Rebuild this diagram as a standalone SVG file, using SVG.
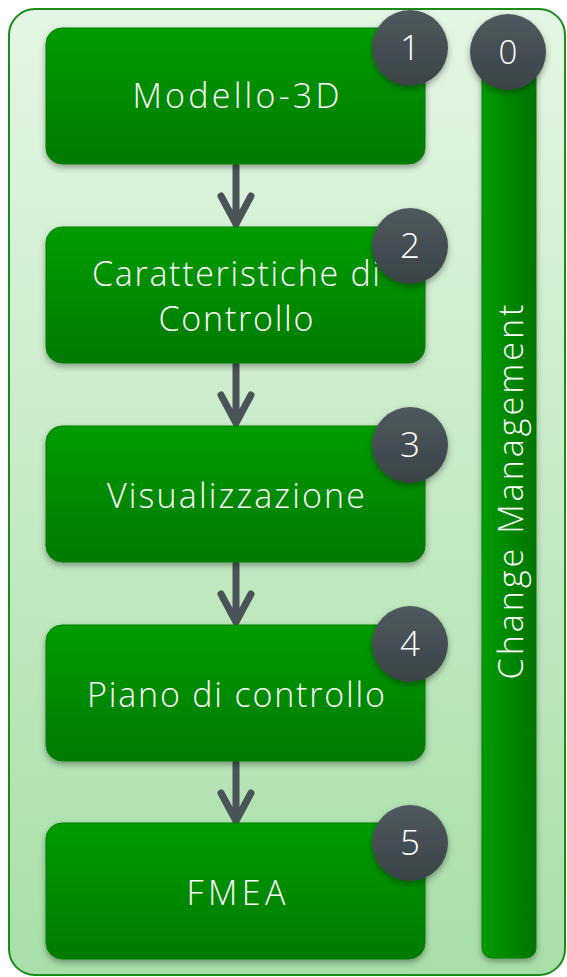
<svg xmlns="http://www.w3.org/2000/svg" width="567" height="977" viewBox="0 0 567 977">
<defs>
<linearGradient id="bg" x1="0" y1="0" x2="0" y2="1"><stop offset="0" stop-color="#e4f6e4"/><stop offset="1" stop-color="#a8dfa8"/></linearGradient>
<linearGradient id="box" x1="0" y1="0" x2="0" y2="1"><stop offset="0" stop-color="#009c00"/><stop offset="1" stop-color="#007a00"/></linearGradient>
<linearGradient id="bar" x1="0" y1="0" x2="1" y2="0"><stop offset="0" stop-color="#009c00"/><stop offset="1" stop-color="#007400"/></linearGradient>
<linearGradient id="circ" x1="0" y1="0" x2="0" y2="1"><stop offset="0" stop-color="#4f595e"/><stop offset="1" stop-color="#3a4347"/></linearGradient>
<filter id="sh" x="-20%" y="-20%" width="140%" height="150%"><feDropShadow dx="0" dy="3" stdDeviation="3" flood-color="#000" flood-opacity="0.35"/></filter>
</defs>
<style>
.box{fill:url(#box);stroke:#0a7d0a;stroke-width:1;filter:url(#sh)}
.lbl{font-family:"Open Sans","Lato",sans-serif;font-weight:300;font-size:34px;fill:#fff;text-anchor:middle}
.num{font-family:"Open Sans","Lato",sans-serif;font-weight:300;font-size:35px;fill:#fff;text-anchor:middle}
.circ{fill:url(#circ);filter:url(#sh)}
.arr{fill:none;stroke:#4a5358;stroke-width:7;stroke-linecap:round;stroke-linejoin:miter}
</style>
<rect x="9" y="9" width="556" height="966" rx="26" fill="url(#bg)" stroke="#1a8a1a" stroke-width="2"/>
<g id="connectors">
<path class="arr" d="M236 166V224M221 196L236 224L251 196"/>
<path class="arr" d="M236 365V423M221 395L236 423L251 395"/>
<path class="arr" d="M236 564V622M221 594L236 622L251 594"/>
<path class="arr" d="M236 763V821M221 793L236 821L251 793"/>
</g>
<g id="node0">
<rect x="482" y="52" width="54" height="906" rx="10" fill="url(#bar)" stroke="#0a7d0a" stroke-width="1" filter="url(#sh)"/>
<text class="lbl" transform="translate(523 492) rotate(-90)" textLength="375" lengthAdjust="spacing">Change Management</text>
<circle class="circ" cx="508" cy="52" r="38"/>
<text class="num" x="508" y="64" style="font-size:33px">0</text>
</g>
<g id="node1">
<rect class="box" x="46" y="28" width="379" height="136" rx="16"/>
<text class="lbl" x="236" y="108" textLength="207" lengthAdjust="spacing">Modello-3D</text>
<circle class="circ" cx="410" cy="48" r="38"/>
<text class="num" x="410" y="60">1</text>
</g>
<g id="node2">
<rect class="box" x="46" y="227" width="379" height="136" rx="16"/>
<text class="lbl" x="236" y="286" textLength="288" lengthAdjust="spacing">Caratteristiche di</text>
<text class="lbl" x="236" y="331" textLength="155" lengthAdjust="spacing">Controllo</text>
<circle class="circ" cx="410" cy="246" r="38"/>
<text class="num" x="410" y="258">2</text>
</g>
<g id="node3">
<rect class="box" x="46" y="426" width="379" height="136" rx="16"/>
<text class="lbl" x="236" y="508" textLength="258" lengthAdjust="spacing">Visualizzazione</text>
<circle class="circ" cx="410" cy="445" r="38"/>
<text class="num" x="410" y="457">3</text>
</g>
<g id="node4">
<rect class="box" x="46" y="625" width="379" height="136" rx="16"/>
<text class="lbl" x="236" y="707" textLength="298" lengthAdjust="spacing">Piano di controllo</text>
<circle class="circ" cx="410" cy="644" r="38"/>
<text class="num" x="410" y="656">4</text>
</g>
<g id="node5">
<rect class="box" x="46" y="823" width="379" height="136" rx="16"/>
<text class="lbl" x="236" y="905" textLength="99" lengthAdjust="spacing">FMEA</text>
<circle class="circ" cx="410" cy="843" r="38"/>
<text class="num" x="410" y="855">5</text>
</g>
</svg>
